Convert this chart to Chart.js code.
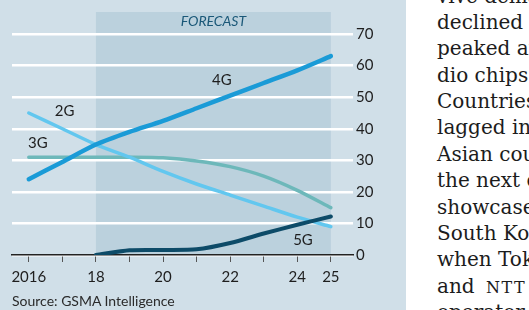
<!DOCTYPE html>
<html>
<head>
<meta charset="utf-8">
<script src="https://cdn.jsdelivr.net/npm/chart.js@4"></script>
<style>
  html, body { margin: 0; padding: 0; width: 529px; height: 310px; overflow: hidden; background: #fff; }
  #panel { position: absolute; left: 0; top: 0; width: 406px; height: 310px; background: #d0dfe8; }
  #chartBox { position: absolute; left: 0; top: 0; width: 406px; height: 310px; }
  #source { position: absolute; left: 12px; top: 292px; font: 14px Lato, sans-serif; color: #2a2a2a; white-space: nowrap; }
  #article { position: absolute; left: 437px; top: -17.5px; font: 20px "DejaVu Serif", serif; line-height: 26.4px; color: #1c1c1c; white-space: nowrap; }
  #article div { height: 26.4px; }
  #article .sc { font-size: 16px; line-height: 0; letter-spacing: 1.5px; margin-left: 5px; }
</style>
</head>
<body>
<div id="panel"></div>
<div id="chartBox"><canvas id="myChart" width="406" height="310"></canvas></div>
<div id="source">Source: GSMA Intelligence</div>
<div id="article">
  <div>vive demand</div>
  <div>declined as</div>
  <div>peaked and</div>
  <div>dio chips.</div>
  <div>Countries</div>
  <div>lagged in</div>
  <div>Asian countries</div>
  <div>the next one</div>
  <div>showcased</div>
  <div>South Korea</div>
  <div>when Tokyo</div>
  <div>and <span class="sc">NTT</span></div>
  <div>operator</div>
</div>
<script>
// years and tick labels
const years = [2016, 2017, 2018, 2019, 2020, 2021, 2022, 2023, 2024, 2025];
const tickLabels = ["2016", "", "18", "", "20", "", "22", "", "24", "25"];
const yTicks = [0, 10, 20, 30, 40, 50, 60, 70];

// share of connections, %
const g2 = [45, 40, 35, 31, 26.5, 22.5, 19, 15.5, 12, 9];
const g3 = [31, 31, 31, 31, 30.8, 29.8, 28, 25, 20.5, 15];
const g4 = [24, 29.5, 35, 39, 42.5, 46.5, 50.5, 54.5, 58.5, 63];
const g5 = [null, null, 0, 1.5, 1.6, 1.8, 3.8, 6.8, 9.6, 12.2];

const forecastFrom = 2018;
const forecastTo = 2025;

const toPts = (arr) => years.map((y, i) => ({ x: y, y: arr[i] }));

// where the series names sit, in data units
const seriesTags = [
  { text: "2G", x: 2017.07, y: 45.7 },
  { text: "3G", x: 2016.27, y: 35.3 },
  { text: "4G", x: 2021.75, y: 55.5 },
  { text: "5G", x: 2024.17, y: 4.7 },
];

const overlay = {
  id: "overlay",
  beforeDraw(chart) {
    const { ctx, chartArea, scales } = chart;
    const x0 = scales.x.getPixelForValue(forecastFrom);
    const x1 = scales.x.getPixelForValue(forecastTo);
    ctx.save();
    ctx.fillStyle = "#bbd1dd";
    ctx.fillRect(x0, chartArea.top, x1 - x0, chartArea.bottom - chartArea.top);
    ctx.fillStyle = "#1a5878";
    ctx.font = "italic 14px Lato";
    ctx.textAlign = "center";
    ctx.textBaseline = "middle";
    ctx.fillText("FORECAST", (x0 + x1) / 2, chartArea.top + 9);
    ctx.restore();
  },
  afterDatasetsDraw(chart) {
    const { ctx, scales } = chart;
    ctx.save();
    ctx.fillStyle = "#1e1e1e";
    ctx.font = "15px Lato";
    ctx.textAlign = "center";
    ctx.textBaseline = "middle";
    seriesTags.forEach((t) => {
      ctx.fillText(t.text, scales.x.getPixelForValue(t.x), scales.y.getPixelForValue(t.y));
    });
    ctx.restore();
  },
};

const line = (label, arr, color, width) => ({
  label,
  data: toPts(arr),
  borderColor: color,
  borderWidth: width,
  pointRadius: 0,
  tension: 0.25,
  borderCapStyle: "round",
  fill: false,
});

new Chart(document.getElementById("myChart"), {
  type: "line",
  data: {
    datasets: [
      line("5G", g5, "#0d4b68", 4),
      line("4G", g4, "#1a9bd7", 4.5),
      line("2G", g2, "#62c7ef", 3.5),
      line("3G", g3, "#6db8ba", 3.5),
    ],
  },
  options: {
    responsive: false,
    animation: false,
    events: [],
    layout: { padding: { left: 12, top: 11, right: 0, bottom: 0 } },
    plugins: { legend: { display: false }, tooltip: { enabled: false } },
    scales: {
      x: {
        type: "linear",
        min: 2015.5,
        max: 2025.66,
        afterBuildTicks: (axis) => { axis.ticks = years.map((v) => ({ value: v })); },
        afterFit: (axis) => { axis.height = 55; },
        grid: { drawOnChartArea: false, drawTicks: true, tickLength: 7, color: "#555", lineWidth: 1 },
        border: { display: true, color: "#222", width: 1.5 },
        ticks: {
          padding: 6,
          color: "#1e1e1e",
          font: { family: "Lato", size: 15 },
          maxRotation: 0,
          autoSkip: false,
          callback: (v, i) => tickLabels[i],
        },
      },
      y: {
        position: "right",
        min: 0,
        max: 77,
        afterBuildTicks: (axis) => { axis.ticks = yTicks.map((v) => ({ value: v })); },
        afterFit: (axis) => { axis.width = 53; },
        grid: { color: "#ffffff", lineWidth: 2.5, drawTicks: false },
        border: { display: false },
        ticks: { padding: 3, color: "#1e1e1e", font: { family: "Lato", size: 15 } },
      },
    },
  },
  plugins: [overlay],
});
</script>
</body>
</html>
